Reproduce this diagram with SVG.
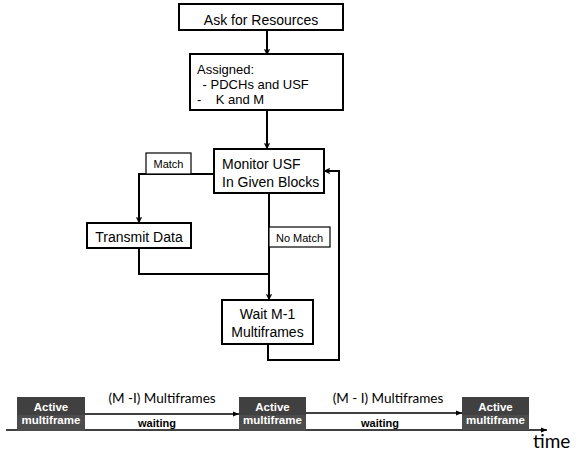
<svg xmlns="http://www.w3.org/2000/svg" width="585" height="453" viewBox="0 0 585 453">
<style>
.box{fill:#fff;stroke:#000;stroke-width:2}
.lbl{fill:#fff;stroke:#000;stroke-width:1.2}
.t{font-family:"Liberation Sans",Arial,sans-serif;font-size:14px;fill:#000}
.s{font-family:"Liberation Sans",Arial,sans-serif;font-size:11px;fill:#000}
.a{font-family:"Liberation Sans",Arial,sans-serif;font-size:13px;fill:#000}
.con{fill:none;stroke:#000;stroke-width:2}
.tl{fill:none;stroke:#000;stroke-width:1.5}
.act{fill:#404040}
.act2{fill:#4c4c4c}
.w{font-family:"Liberation Sans",Arial,sans-serif;font-size:11.5px;font-weight:bold;fill:#fff}
.wt{font-family:"Liberation Sans",Arial,sans-serif;font-size:11px;font-weight:bold;fill:#000}
.mf{font-family:Lato,"Liberation Sans",sans-serif;font-size:13.5px;fill:#000}
</style>
<defs>
<marker id="arr" viewBox="0 0 10 10" refX="9" refY="5" markerWidth="6" markerHeight="6" orient="auto" markerUnits="userSpaceOnUse">
<path d="M1,1 L9,5 L1,9" fill="none" stroke="#000" stroke-width="2"/>
</marker>
<marker id="tri" viewBox="0 0 10 10" refX="10" refY="5" markerWidth="6" markerHeight="6" orient="auto" markerUnits="userSpaceOnUse">
<path d="M0,1 L10,5 L0,9 Z" fill="#000"/>
</marker>
</defs>
<g id="connectors">
<path class="con" d="M267,30 V54" marker-end="url(#arr)"/>
<path class="con" d="M267,110 V148" marker-end="url(#arr)"/>
<path class="con" d="M214,174 H139 V222" marker-end="url(#arr)"/>
<path class="con" d="M139,248 V274 H268"/>
<path class="con" d="M269,193 V299" marker-end="url(#arr)"/>
<path class="con" d="M268,344 V360 H339 V171 H325" marker-end="url(#arr)"/>
</g>
<g id="n-ask"><rect class="box" x="179" y="4" width="164" height="26"/><text class="t" x="261" y="25" text-anchor="middle">Ask for Resources</text></g>
<g id="n-assigned"><rect class="box" x="190" y="54" width="153" height="56"/>
<text class="a" x="197" y="74">Assigned:</text>
<text class="a" x="199" y="89" xml:space="preserve"> - PDCHs and USF</text>
<text class="a" x="197" y="104" xml:space="preserve">-    K and M</text></g>
<g id="n-monitor"><rect class="box" x="214" y="149" width="110" height="44"/>
<text class="t" x="222" y="169">Monitor USF</text>
<text class="t" x="222" y="187">In Given Blocks</text></g>
<g id="l-match"><rect class="lbl" x="146" y="153" width="45" height="21"/><text class="s" x="168.5" y="168" text-anchor="middle">Match</text></g>
<g id="n-transmit"><rect class="box" x="87" y="223" width="104" height="25"/><text class="t" x="139" y="242" text-anchor="middle">Transmit Data</text></g>
<g id="l-nomatch"><rect class="lbl" x="269" y="227" width="61" height="20"/><text class="s" x="299.5" y="242" text-anchor="middle">No Match</text></g>
<g id="n-wait"><rect class="box" x="222" y="300" width="91" height="44"/>
<text class="t" x="267.5" y="319" text-anchor="middle">Wait M-1</text>
<text class="t" x="267.5" y="337" text-anchor="middle">Multiframes</text></g>
<g id="timeline">
<path class="tl" d="M6,430 H547" marker-end="url(#tri)"/>
<path class="tl" d="M85,414 H239" marker-end="url(#tri)"/>
<path class="tl" d="M306,413 H462" marker-end="url(#tri)"/>
<rect class="act" x="17" y="397" width="68" height="18"/><rect class="act2" x="17" y="415" width="68" height="16"/>
<rect class="act" x="239" y="397" width="67" height="18"/><rect class="act2" x="239" y="415" width="67" height="16"/>
<rect class="act" x="462" y="397" width="67" height="18"/><rect class="act2" x="462" y="415" width="67" height="15"/>
<text class="w" x="51" y="411" text-anchor="middle">Active</text><text class="w" x="51" y="424" text-anchor="middle">multiframe</text>
<text class="w" x="272.5" y="411" text-anchor="middle">Active</text><text class="w" x="272.5" y="424" text-anchor="middle">multiframe</text>
<text class="w" x="495.5" y="411" text-anchor="middle">Active</text><text class="w" x="495.5" y="424" text-anchor="middle">multiframe</text>
<text class="mf" x="162" y="403" text-anchor="middle">(M -I) Multiframes</text>
<text class="mf" x="388" y="403" text-anchor="middle">(M - I) Multiframes</text>
<text class="wt" x="157" y="427" text-anchor="middle">waiting</text>
<text class="wt" x="380" y="427" text-anchor="middle">waiting</text>
<text x="533" y="448" font-family="Lato,'Liberation Sans',sans-serif" font-size="19px">time</text>
</g>
</svg>
